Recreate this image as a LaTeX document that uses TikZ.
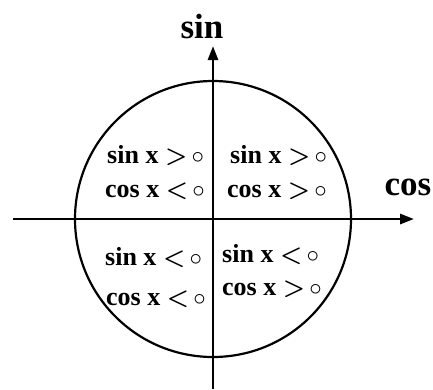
\documentclass[tikz,border=0pt]{standalone}
\usepackage{amsmath}
\usepackage{fontspec}
\setmainfont{Liberation Serif}
\usetikzlibrary{arrows.meta,positioning}

\newcommand{\gtz}{$\boldsymbol{>}$\,$\circ$}
\newcommand{\ltz}{$\boldsymbol{<}$\,$\circ$}

\tikzset{
  quad/.style={font=\bfseries\fontsize{26}{26}\selectfont,anchor=base west,inner sep=0pt},
  axlabel/.style={font=\bfseries\fontsize{35}{35}\selectfont,anchor=base,inner sep=0pt},
  axis/.style={line width=2.8pt,-{Triangle[length=14pt,width=10pt]}}
}

\begin{document}
\begin{tikzpicture}[x=1pt,y=-1pt]
  \useasboundingbox (0,0) rectangle (433,389);
  \coordinate (O) at (213,219);
  \draw[line width=2.2pt] (O) circle (138pt);
  % axes
  \coordinate (xl) at (13,219);
  \coordinate (xr) at (414,219);
  \coordinate (yb) at (213,389);
  \coordinate (yt) at (213,46);
  \draw[axis] (xl) -- (xr);
  \draw[axis] (yb) -- (yt);
  \node[axlabel] (sin) at (202,38) {sin};
  \node[axlabel] (cos) at (408,195) {cos};
  % quadrant signs
  \node[quad] (q1a) at (230,163) {sin x \gtz};
  \node[quad] (q1b) at (227,197) {cos x \gtz};
  \node[quad] (q2a) at (107,163) {sin x \gtz};
  \node[quad] (q2b) at (105,197) {cos x \ltz};
  \node[quad] (q3a) at (105,265) {sin x \ltz};
  \node[quad] (q3b) at (106,305) {cos x \ltz};
  \node[quad] (q4a) at (222,262) {sin x \ltz};
  \node[quad] (q4b) at (222,295) {cos x \gtz};
\end{tikzpicture}
\end{document}
